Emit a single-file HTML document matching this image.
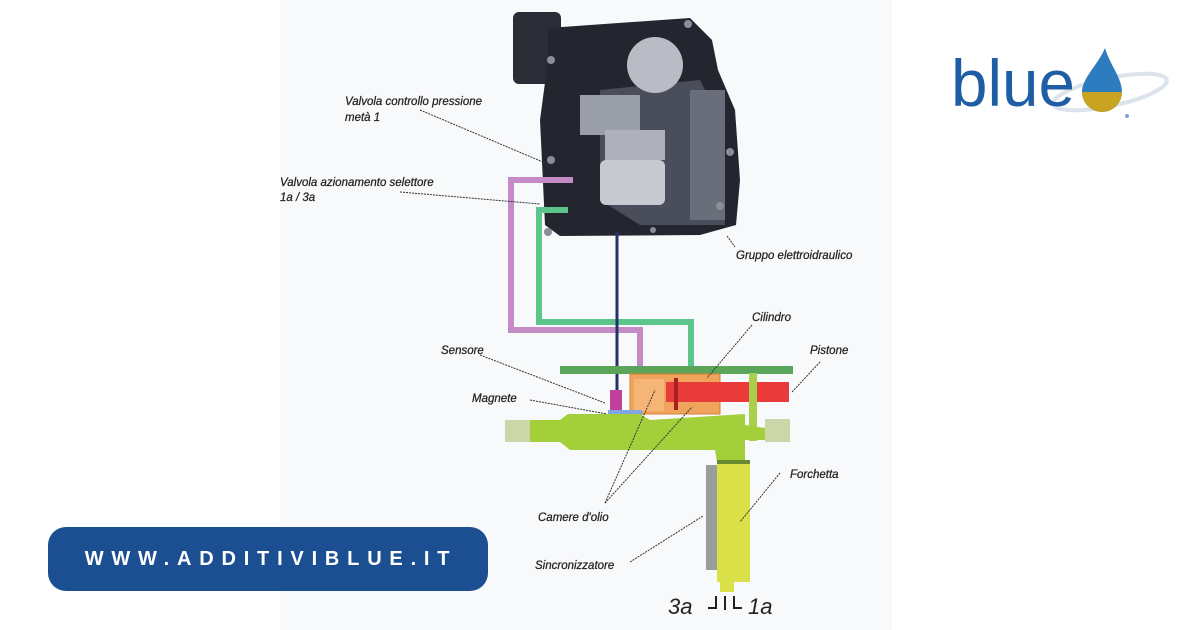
<!DOCTYPE html>
<html><head><meta charset="utf-8"><style>
html,body{margin:0;padding:0;background:#fff;}
body{width:1200px;height:630px;position:relative;overflow:hidden;font-family:"Liberation Sans",sans-serif;}
.btn{position:absolute;left:48px;top:527px;width:440px;height:64px;background:#1c4f92;border-radius:18px;color:#fff;font-weight:bold;font-size:20px;letter-spacing:7.8px;line-height:64px;text-align:center;text-indent:6px;}
</style></head><body>
<svg width="1200" height="630" style="position:absolute;left:0;top:0">
<rect x="280" y="0" width="612" height="630" fill="#f8f9fb"/>
<rect x="513" y="12" width="48" height="72" rx="6" fill="#2a2c36"/>
<path d="M548 28 L690 18 L712 40 L718 70 L735 110 L740 180 L736 225 L700 235 L560 236 L545 225 L540 120 L548 60 Z" fill="#24262f"/>
<path d="M600 90 L700 80 L720 120 L725 225 L640 225 L600 200 Z" fill="#4a4d5a"/>
<circle cx="655" cy="65" r="28" fill="#b9bcc4"/>
<rect x="580" y="95" width="60" height="40" fill="#9a9ea8"/>
<rect x="605" y="130" width="60" height="30" fill="#aeb1ba"/>
<rect x="600" y="160" width="65" height="45" rx="6" fill="#c7cad1"/>
<rect x="690" y="90" width="35" height="130" fill="#6a6e7a"/>
<g fill="#8a8e98"><circle cx="551" cy="60" r="4"/><circle cx="551" cy="160" r="4"/><circle cx="548" cy="232" r="4"/><circle cx="730" cy="152" r="4"/><circle cx="720" cy="206" r="4"/><circle cx="688" cy="24" r="4"/><circle cx="653" cy="230" r="3"/></g>
<path d="M573 180 H511 V330 H640 V367" fill="none" stroke="#c58bc7" stroke-width="6"/>
<path d="M568 210 H539 V322 H691 V367" fill="none" stroke="#5cc58c" stroke-width="6"/>
<line x1="617" y1="232" x2="617" y2="392" stroke="#27306b" stroke-width="3"/>
<rect x="560" y="366" width="233" height="8" fill="#5aa55a"/>
<rect x="630" y="374" width="90" height="40" fill="#f0a35c" stroke="#d78030"/>
<rect x="634" y="379" width="30" height="32" fill="#f5b576"/>
<rect x="666" y="382" width="123" height="20" fill="#ea3b3b"/>
<rect x="674" y="378" width="4" height="32" fill="#a82020"/>
<rect x="749" y="373" width="8" height="68" fill="#a8d04a"/>
<rect x="610" y="390" width="12" height="20" fill="#c0409a"/>
<rect x="608" y="410" width="34" height="12" fill="#7fa6e0"/>
<path d="M530 420 H560 L568 414 L640 414 L650 420 L745 414 L745 425 L765 428 V440 L745 440 V462 L717 462 L715 450 H570 L560 442 H530 Z" fill="#a3cf3a"/>
<rect x="505" y="420" width="25" height="22" fill="#ccd6a8"/>
<rect x="765" y="419" width="25" height="23" fill="#ccd6a8"/>
<rect x="717" y="462" width="33" height="120" fill="#d9e048"/>
<rect x="717" y="460" width="33" height="4" fill="#6a8a30"/>
<rect x="706" y="465" width="11" height="105" fill="#9a9e9a"/>
<rect x="720" y="582" width="14" height="10" fill="#d9e048"/>
<path d="M708 608 H716 V596 M725 596 V610 M734 596 V608 H742" fill="none" stroke="#222" stroke-width="2"/>
<text x="668" y="614" font-size="22" font-style="italic" fill="#222">3a</text>
<text x="748" y="614" font-size="22" font-style="italic" fill="#222">1a</text>
<g stroke="#333" stroke-width="1" stroke-dasharray="2,1" fill="none">
<line x1="420" y1="110" x2="550" y2="165"/>
<line x1="400" y1="192" x2="540" y2="204"/>
<line x1="727" y1="236" x2="735" y2="247"/>
<line x1="752" y1="325" x2="707" y2="378"/>
<line x1="820" y1="362" x2="792" y2="392"/>
<line x1="480" y1="355" x2="605" y2="403"/>
<line x1="530" y1="400" x2="607" y2="414"/>
<line x1="605" y1="503" x2="655" y2="390"/>
<line x1="605" y1="503" x2="692" y2="407"/>
<line x1="780" y1="473" x2="740" y2="522"/>
<line x1="630" y1="562" x2="703" y2="516"/>
</g>
<g font-size="11.5" font-style="italic" fill="#222" stroke="#222" stroke-width="0.25">
<text x="345" y="105">Valvola controllo pressione</text>
<text x="345" y="121">metà 1</text>
<text x="280" y="186">Valvola azionamento selettore</text>
<text x="280" y="201">1a / 3a</text>
<text x="736" y="259">Gruppo elettroidraulico</text>
<text x="752" y="321">Cilindro</text>
<text x="810" y="354">Pistone</text>
<text x="441" y="354">Sensore</text>
<text x="472" y="402">Magnete</text>
<text x="538" y="521">Camere d'olio</text>
<text x="790" y="478">Forchetta</text>
<text x="535" y="569">Sincronizzatore</text>
</g>
<ellipse cx="1110" cy="92" rx="58" ry="14" transform="rotate(-12 1110 92)" fill="none" stroke="#dde3ea" stroke-width="4"/>
<text x="951" y="106" font-size="66" fill="#1f5da4" textLength="124" lengthAdjust="spacingAndGlyphs">blue</text>
<path d="M1105 48 C1098 65 1082 78 1082 92 A19 19 0 0 0 1122 92 C1122 78 1110 65 1105 48 Z" fill="#2e7cc0"/>
<path d="M1082 92 A19 19 0 0 0 1122 92 Z" fill="#c9a420"/>
<circle cx="1127" cy="116" r="2" fill="#7aa6d8"/>
</svg>
<div class="btn">WWW.ADDITIVIBLUE.IT</div>
</body></html>
